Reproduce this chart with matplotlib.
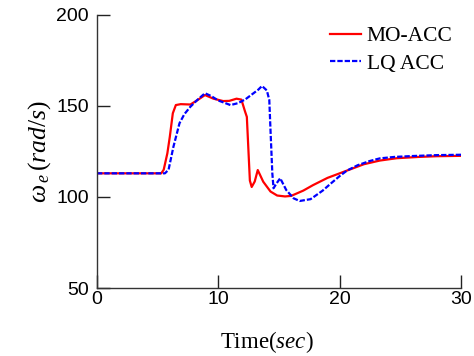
import matplotlib
matplotlib.use("Agg")
import matplotlib.pyplot as plt

plt.rcParams['font.family'] = 'Liberation Sans'
plt.rcParams['mathtext.fontset'] = 'custom'
plt.rcParams['mathtext.rm'] = 'Liberation Serif'
plt.rcParams['mathtext.it'] = 'Liberation Serif:italic'

# Engine speed response (rad/s) versus time (s)
t_mo = [0, 5.3, 5.5, 5.8, 6.0, 6.25, 6.5, 6.9, 7.7, 8.3, 8.9, 9.6, 10.4, 10.9,
        11.5, 11.9, 12.2, 12.35, 12.6, 12.75, 13.0, 13.25, 13.7, 14.3, 14.85,
        15.5, 16.0, 17.0, 17.8, 19.0, 20.6, 22.0, 23.3, 24.7, 26.5, 28.0, 30.0]
w_mo = [113, 113, 115, 124, 133, 146, 150.5, 151, 150.8, 153.3, 156, 154, 152.7,
        152.8, 154, 153.5, 147, 144, 109, 105.5, 108.5, 114.8, 108.4, 103, 100.8,
        100.3, 100.6, 103.5, 106.5, 110.5, 114.5, 118, 120, 121.3, 122, 122.4, 122.6]

t_lq = [0, 5.6, 5.9, 6.3, 6.8, 7.2, 7.7, 8.3, 8.9, 9.4, 10.0, 11.0, 11.6, 12.2,
        12.8, 13.3, 13.6, 14.0, 14.2, 14.3, 14.45, 14.55, 14.8, 15.1, 15.6, 16.2,
        16.7, 17.6, 18.6, 19.2, 20.0, 20.6, 21.5, 22.5, 23.3, 24.5, 26.0, 28.0, 30.0]
w_lq = [113, 113, 115, 127.6, 140.5, 145.5, 149.6, 153.5, 157, 155.5, 153, 150.5,
        151.5, 153.5, 156.5, 159, 161, 158.5, 153.3, 136.8, 113, 104.8, 107.5,
        110.3, 103.8, 99.3, 97.8, 98.8, 103.5, 107, 111.5, 114.5, 117.5, 119.8,
        121.2, 122, 122.5, 123, 123.2]

x_ticks = [0, 10, 20, 30]
y_ticks = [50, 100, 150, 200]

fig = plt.figure(figsize=(4.74, 3.56), dpi=100)
ax = fig.add_axes([0.2046, 0.191, 0.768, 0.767])

ax.plot(t_mo, w_mo, color='#ff0000', lw=1.6, label='MO-ACC')
ax.plot(t_lq, w_lq, color='#0000ff', lw=1.6, dashes=(2.4, 0.9), label='LQ ACC')

ax.set_xlim(0, 30)
ax.set_ylim(50, 200)
ax.set_xticks(x_ticks)
ax.set_yticks(y_ticks)
ax.tick_params(direction='in', length=9.5, width=1, labelsize=14, colors='#222222',
               labelcolor='black')
ax.tick_params(axis='y', pad=6)
ax.tick_params(axis='x', pad=2)
for s in ('top', 'right'):
    ax.spines[s].set_visible(False)
for s in ('left', 'bottom'):
    ax.spines[s].set_color('#333333')
    ax.spines[s].set_linewidth(1)

ax.set_xlabel(r'$\mathrm{Time(}\mathit{sec}\mathrm{)}$', fontsize=16.5)
ax.xaxis.set_label_coords(0.467, -0.152)
ax.set_ylabel(r'$\mathit{\omega_{\,e}\,(rad/s)}$', fontsize=18.5, labelpad=2)

leg = ax.legend(loc='upper right', bbox_to_anchor=(1.03, 1.03), frameon=False,
                prop={'family': 'Liberation Serif', 'size': 15.5},
                handlelength=1.45, handletextpad=0.25, labelspacing=0.35)

fig.savefig('out.png', dpi=100)
